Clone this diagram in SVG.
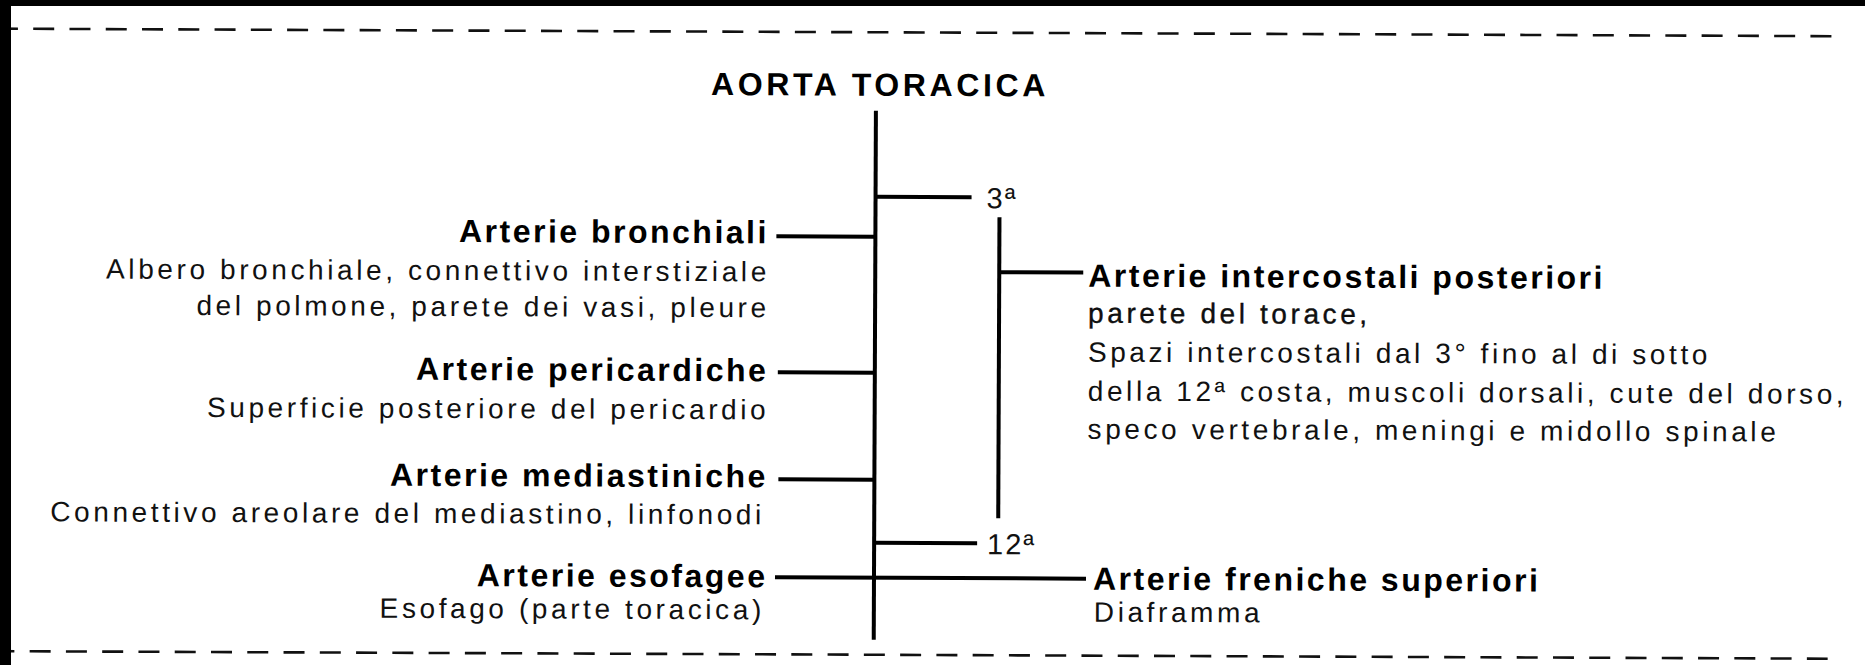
<svg xmlns="http://www.w3.org/2000/svg" width="1865" height="665" viewBox="0 0 1865 665">
<style>
  .bg{fill:#ffffff}
  .edge{fill:#000000}
  .dash{stroke:#111;stroke-width:2.6;stroke-dasharray:21 15.27;fill:none}
  .ln{stroke:#000;stroke-width:4;fill:none;stroke-linecap:butt}
  .title{font-family:"Liberation Sans",Arial,sans-serif;font-weight:bold;font-size:32px;letter-spacing:3.6px;fill:#000}
  .lbl{font-family:"Liberation Sans",Arial,sans-serif;font-weight:bold;font-size:32px;letter-spacing:2.5px;fill:#000}
  .desc{font-family:"Liberation Sans",Arial,sans-serif;font-size:28px;letter-spacing:3.6px;fill:#111}
  .med{stroke:#000;stroke-width:0.35}
  .num{font-family:"Liberation Sans",Arial,sans-serif;font-size:29px;letter-spacing:2px;fill:#111}
  .end{text-anchor:end}
</style>
<rect class="bg" x="0" y="0" width="1865" height="665"/>
<g transform="rotate(0.236 932 332)">
  <line class="dash" x1="-4.3" y1="32.5" x2="1833" y2="32.5"/>
  <line class="dash" x1="-5.3" y1="655" x2="1829" y2="655"/>

  <g id="connectors">
    <line class="ln" x1="875" y1="111" x2="875" y2="640"/>
    <line class="ln" x1="875" y1="197" x2="971" y2="197"/>
    <line class="ln" x1="776" y1="237" x2="875" y2="237"/>
    <line class="ln" x1="999" y1="217" x2="999" y2="518"/>
    <line class="ln" x1="999" y1="272" x2="1083" y2="272"/>
    <line class="ln" x1="778" y1="373" x2="875" y2="373"/>
    <line class="ln" x1="779" y1="480" x2="875" y2="480"/>
    <line class="ln" x1="875" y1="543" x2="978" y2="543"/>
    <line class="ln" x1="776" y1="578" x2="1087" y2="578"/>
  </g>

  <g id="aorta-toracica">
    <text class="title" x="879" y="96" text-anchor="middle">AORTA TORACICA</text>
  </g>
  <g id="marker-3a">
    <text class="num" x="986" y="208">3ª</text>
  </g>
  <g id="marker-12a">
    <text class="num" x="988" y="554">12ª</text>
  </g>

  <g id="arterie-bronchiali">
    <text class="lbl end" x="768.5" y="244">Arterie bronchiali</text>
    <text class="desc end" x="769.6" y="282">Albero bronchiale, connettivo interstiziale</text>
    <text class="desc end" x="769.6" y="318">del polmone, parete dei vasi, pleure</text>
  </g>
  <g id="arterie-pericardiche">
    <text class="lbl end" x="768.5" y="382">Arterie pericardiche</text>
    <text class="desc end" x="769.6" y="420">Superficie posteriore del pericardio</text>
  </g>
  <g id="arterie-mediastiniche">
    <text class="lbl end" x="768.5" y="488">Arterie mediastiniche</text>
    <text class="desc end" x="765.6" y="525">Connettivo areolare del mediastino, linfonodi</text>
  </g>
  <g id="arterie-esofagee">
    <text class="lbl end" x="768.5" y="588">Arterie esofagee</text>
    <text class="desc end" x="766" y="620">Esofago (parte toracica)</text>
  </g>

  <g id="arterie-intercostali-posteriori">
    <text class="lbl" x="1088" y="286">Arterie intercostali posteriori</text>
    <text class="desc med" x="1088" y="322">parete del torace,</text>
    <text class="desc" x="1088" y="361">Spazi intercostali dal 3° fino al di sotto</text>
    <text class="desc" x="1088" y="400">della 12ª costa, muscoli dorsali, cute del dorso,</text>
    <text class="desc" x="1088" y="438">speco vertebrale, meningi e midollo spinale</text>
  </g>
  <g id="arterie-freniche-superiori">
    <text class="lbl" x="1094" y="589">Arterie freniche superiori</text>
    <text class="desc" x="1095" y="621">Diaframma</text>
  </g>
</g>
<rect class="edge" x="0" y="0" width="1865" height="6"/>
<rect class="edge" x="0" y="0" width="11" height="665"/>
</svg>
